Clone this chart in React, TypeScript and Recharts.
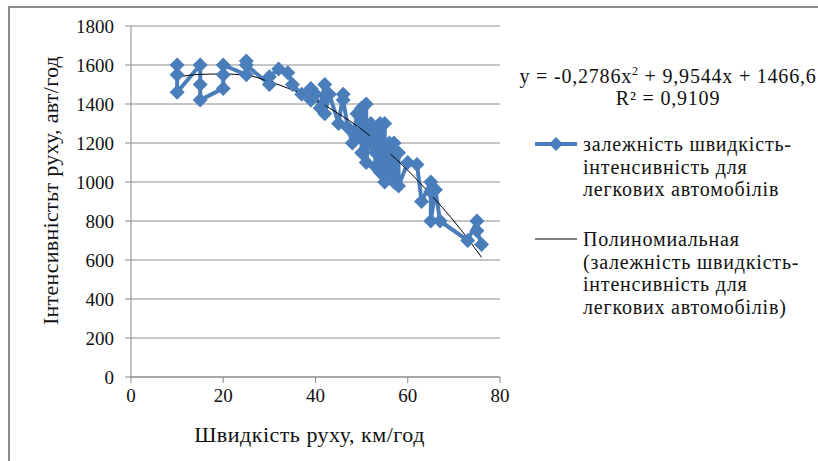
import React from "react";
import {
  ComposedChart,
  Line,
  XAxis,
  YAxis,
  CartesianGrid,
  Legend,
} from "recharts";

// observed points, in the order they were entered
const speeds = [
  10, 10, 10, 15, 15, 15, 20, 20, 20, 25, 25, 25, 30, 30, 32, 34, 35, 37, 39, 39,
  40, 41, 42, 42, 43, 45, 46, 46, 47, 48, 49, 49, 50, 50, 50, 51, 51, 52, 52, 53,
  53, 53, 54, 54, 54, 55, 55, 55, 56, 56, 56, 57, 57, 58, 58, 60, 62, 63, 65, 65,
  65, 66, 67, 73, 75, 75, 76,
];
const intensities = [
  1600, 1550, 1460, 1600, 1500, 1420, 1480, 1550, 1600, 1550, 1620, 1600, 1500,
  1540, 1580, 1560, 1500, 1450, 1480, 1420, 1450, 1380, 1500, 1350, 1450, 1300,
  1450, 1420, 1280, 1200, 1350, 1250, 1380, 1220, 1150, 1400, 1100, 1300, 1200,
  1250, 1150, 1080, 1300, 1200, 1050, 1300, 1150, 1000, 1200, 1100, 1050, 1200,
  1000, 1150, 980, 1100, 1090, 900, 1000, 950, 800, 960, 800, 700, 800, 750, 680,
];

// polynomial trend curve
const trendSpeeds = [10, 15, 20, 25, 30, 35, 40, 45, 50, 55, 60, 65, 70, 76];
const trendValues = [
  1538, 1552, 1554, 1548, 1515, 1472, 1420, 1350, 1270, 1170, 1060, 935, 800, 614,
];

const xTicks = [0, 20, 40, 60, 80];
const yTicks = [0, 200, 400, 600, 800, 1000, 1200, 1400, 1600, 1800];

const seriesName = "залежність швидкість-інтенсивність для легкових автомобілів";
const trendName =
  "Полиноміальная (залежність швидкість-інтенсивність для легкових автомобілів)";

const points = speeds.map((x, i) => ({ x, y: intensities[i] }));
const trend = trendSpeeds.map((x, i) => ({ x, y: trendValues[i] }));

const BLUE = "#4a7ebb";
const FONT = "Liberation Serif, Times New Roman, DejaVu Serif, serif";

const Diamond = (props: any) => {
  const { cx, cy } = props;
  if (cx == null || cy == null) return null;
  const r = 7.5;
  return (
    <polygon
      points={`${cx},${cy - r} ${cx + r},${cy} ${cx},${cy + r} ${cx - r},${cy}`}
      fill={BLUE}
    />
  );
};

const XTitle = (props: any) => {
  const { viewBox } = props;
  return (
    <text
      x={viewBox.x + viewBox.width / 2 - 6}
      y={viewBox.y + 57}
      textAnchor="middle"
      dominantBaseline="central"
      fill="#111"
      fontSize={22}
      letterSpacing={0.5}
      fontFamily={FONT}
    >
      Швидкість руху, км/год
    </text>
  );
};

const YTitle = (props: any) => {
  const { viewBox } = props;
  const x = viewBox.x - 21;
  const y = viewBox.y + viewBox.height / 2 - 11;
  return (
    <text
      x={x}
      y={y}
      transform={`rotate(-90 ${x} ${y})`}
      textAnchor="middle"
      dominantBaseline="central"
      fill="#111"
      fontSize={22}
      letterSpacing={0.3}
      fontFamily={FONT}
    >
      Інтенсивністьт руху, авт/год
    </text>
  );
};

// zero-height box so the legend takes no room from the plot
const LegendBox = () => {
  const line = {
    fontFamily: FONT,
    fontSize: 20,
    letterSpacing: "0.8px",
    lineHeight: "22.5px",
    color: "#111",
  };
  return (
    <div style={{ position: "relative", width: 0, height: 0 }}>
      <div style={{ ...line, position: "absolute", left: 0, top: 0, width: 316, textAlign: "center", whiteSpace: "nowrap" }}>
        y = -0,2786x<sup style={{ fontSize: 12 }}>2</sup> + 9,9544x + 1466,6
        <br />
        R² = 0,9109
      </div>
      <svg style={{ position: "absolute", left: 25, top: 76 }} width={44} height={16}>
        <line x1={0} y1={8} x2={42} y2={8} stroke={BLUE} strokeWidth={4} />
        <polygon points="21,1 28,8 21,15 14,8" fill={BLUE} />
      </svg>
      <div style={{ ...line, position: "absolute", left: 73, top: 73, whiteSpace: "nowrap" }}>
        залежність швидкість-
        <br />
        інтенсивність для
        <br />
        легкових автомобілів
      </div>
      <svg style={{ position: "absolute", left: 25, top: 171 }} width={44} height={16}>
        <line x1={0} y1={8} x2={42} y2={8} stroke="#000" strokeWidth={1} />
      </svg>
      <div style={{ ...line, position: "absolute", left: 73, top: 168, whiteSpace: "nowrap" }}>
        Полиномиальная
        <br />
        (залежність швидкість-
        <br />
        інтенсивність для
        <br />
        легкових автомобілів)
      </div>
    </div>
  );
};

export default function App() {
  return (
    <div
      style={{
        position: "absolute",
        left: 8,
        top: 6,
        width: 830,
        height: 470,
        border: "2px solid #8c8c8c",
        background: "#fff",
        fontFamily: FONT,
      }}
    >
      <ComposedChart
        width={800}
        height={445}
        margin={{ top: 18, right: 310, bottom: 46, left: 61 }}
        style={{ fontFamily: FONT }}
      >
        <CartesianGrid vertical={false} stroke="#8c8c8c" strokeWidth={1} />
        <XAxis
          type="number"
          dataKey="x"
          domain={[0, 80]}
          ticks={xTicks}
          allowDuplicatedCategory={false}
          stroke="#8c8c8c"
          tickSize={6}
          tickMargin={6}
          height={30}
          tick={{ fill: "#111", fontSize: 19, fontFamily: FONT }}
          label={<XTitle />}
        />
        <YAxis
          type="number"
          domain={[0, 1800]}
          ticks={yTicks}
          stroke="#8c8c8c"
          tickSize={6}
          tickMargin={11}
          width={60}
          tick={{ fill: "#111", fontSize: 19, fontFamily: FONT }}
          label={<YTitle />}
        />
        <Legend
          content={() => <LegendBox />}
          wrapperStyle={{ position: "absolute", left: 500, top: 52, width: 0, height: 0 }}
        />
        <Line
          data={points}
          dataKey="y"
          name={seriesName}
          stroke={BLUE}
          strokeWidth={4}
          dot={<Diamond />}
          activeDot={false}
          isAnimationActive={false}
          type="linear"
        />
        <Line
          data={trend}
          dataKey="y"
          name={trendName}
          stroke="#000"
          strokeWidth={1}
          dot={false}
          activeDot={false}
          isAnimationActive={false}
          type="monotone"
        />
      </ComposedChart>
    </div>
  );
}
